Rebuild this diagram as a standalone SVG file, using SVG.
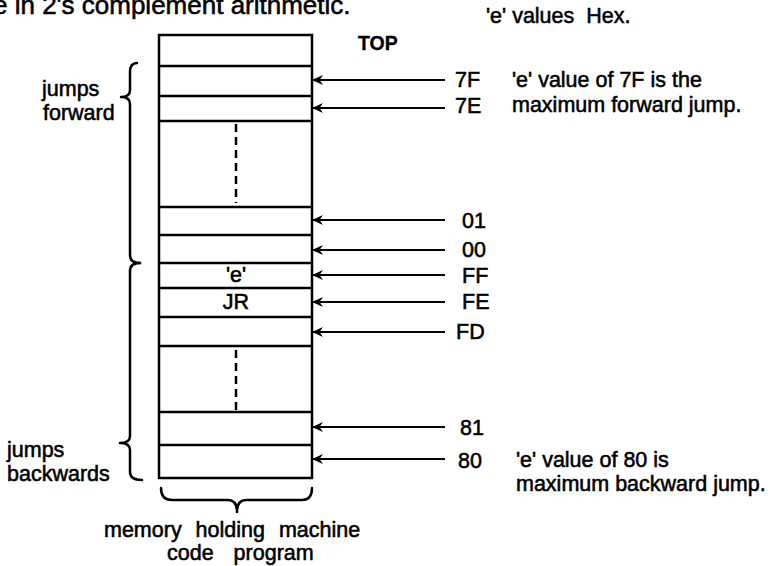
<svg xmlns="http://www.w3.org/2000/svg" width="772" height="566" viewBox="0 0 772 566">
<defs>
<marker id="ah" markerWidth="12" markerHeight="10" refX="10" refY="5" orient="auto" markerUnits="userSpaceOnUse">
<path d="M11,5 L0,0 L3.5,5 L0,10 Z" fill="#000"/>
</marker>
<style>
text{font-family:"Liberation Sans",Arial,sans-serif;font-size:21.5px;fill:#000;stroke:#000;stroke-width:0.55}
.lbl{dominant-baseline:central}
.note{font-size:21.5px}
.cell{fill:#fff;stroke:#000;stroke-width:2.5}
.arr{stroke:#000;stroke-width:2;fill:none;marker-end:url(#ah)}
.br{stroke:#000;stroke-width:2.5;fill:none;stroke-linecap:round;stroke-linejoin:round}
.dash{stroke:#000;stroke-width:2.5;stroke-dasharray:8 5}
</style>
</defs>
<rect width="772" height="566" fill="#fff"/>
<text x="-7" y="14" style="font-size:26px">e in 2's complement arithmetic.</text>
<text x="486" y="23" xml:space="preserve">'e' values  Hex.</text>
<text x="358" y="50" style="font-weight:bold;font-size:19.5px;stroke-width:0.3">TOP</text>

<g id="memory">
<rect class="cell" x="159" y="35" width="153" height="443"/>
<g stroke="#000" stroke-width="2.5">
<line x1="159" y1="66" x2="312" y2="66"/>
<line x1="159" y1="96" x2="312" y2="96"/>
<line x1="159" y1="121" x2="312" y2="121"/>
<line x1="159" y1="207" x2="312" y2="207"/>
<line x1="159" y1="235" x2="312" y2="235"/>
<line x1="159" y1="263" x2="312" y2="263"/>
<line x1="159" y1="288" x2="312" y2="288"/>
<line x1="159" y1="317" x2="312" y2="317"/>
<line x1="159" y1="346" x2="312" y2="346"/>
<line x1="159" y1="412" x2="312" y2="412"/>
<line x1="159" y1="445" x2="312" y2="445"/>
</g>
<line class="dash" x1="236" y1="124" x2="236" y2="203"/>
<line class="dash" x1="236" y1="350" x2="236" y2="410"/>
<text class="lbl" x="236" y="275" text-anchor="middle">'e'</text>
<text class="lbl" x="236" y="302" text-anchor="middle">JR</text>
</g>

<g id="connectors">
<line class="arr" x1="445" y1="80" x2="313" y2="80"/>
<line class="arr" x1="445" y1="108" x2="313" y2="108"/>
<line class="arr" x1="445" y1="220" x2="313" y2="220"/>
<line class="arr" x1="445" y1="250" x2="313" y2="250"/>
<line class="arr" x1="445" y1="275" x2="313" y2="275"/>
<line class="arr" x1="445" y1="302" x2="313" y2="302"/>
<line class="arr" x1="445" y1="332" x2="313" y2="332"/>
<line class="arr" x1="445" y1="427" x2="313" y2="427"/>
<line class="arr" x1="445" y1="459" x2="313" y2="459"/>
</g>

<g id="values">
<text class="lbl" x="455" y="80">7F</text>
<text class="lbl" x="455" y="106">7E</text>
<text class="lbl" x="462" y="221">01</text>
<text class="lbl" x="462" y="250">00</text>
<text class="lbl" x="462" y="276">FF</text>
<text class="lbl" x="462" y="302">FE</text>
<text class="lbl" x="456" y="332">FD</text>
<text class="lbl" x="460" y="428">81</text>
<text class="lbl" x="458" y="461">80</text>
</g>

<g id="notes">
<text class="note" x="512" y="87">'e' value of 7F is the</text>
<text class="note" x="512" y="112">maximum forward jump.</text>
<text class="note" x="516" y="467">'e' value of 80 is</text>
<text class="note" x="516" y="491">maximum backward jump.</text>
</g>

<g id="braces">
<path class="br" d="M137,63 Q130,63 130,72 L130,90 Q130,97 121,97 Q130,97 130,104 L130,255 Q130,263 140,263"/>
<path class="br" d="M140,263 Q130,263 130,271 L130,436 Q130,443 120,443 Q130,443 130,450 L130,472 Q130,480 142,480"/>
<path class="br" d="M161,488 Q161,500 172,500 L228,500 Q237,500 237,512 Q237,500 246,500 L302,500 Q312,500 312,488"/>
</g>

<g id="side-labels">
<text x="42" y="96">jumps</text>
<text x="43" y="120">forward</text>
<text x="7" y="457">jumps</text>
<text x="7" y="481">backwards</text>
<text x="104" y="537" style="word-spacing:8px">memory holding machine</text>
<text x="167" y="560" style="word-spacing:14px">code program</text>
</g>
</svg>
